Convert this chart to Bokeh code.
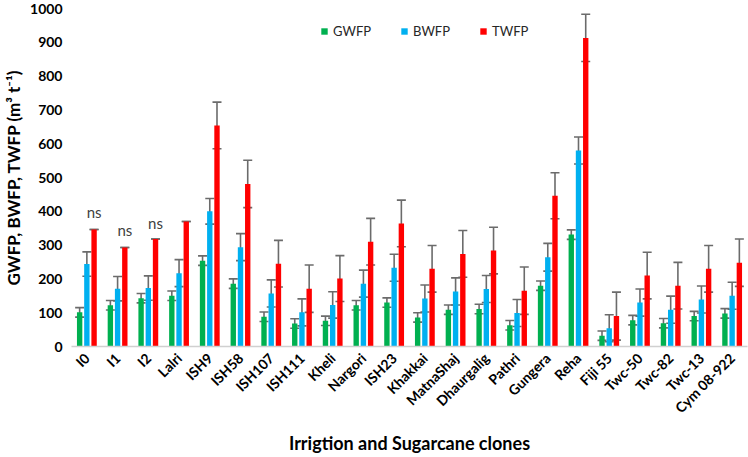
from math import pi
from bokeh.plotting import figure
from bokeh.models import (ColumnDataSource, FactorRange, Range1d, Whisker, TeeHead,
                          Legend, LegendItem, FixedTicker)
from bokeh.transform import dodge
from bokeh.embed import file_html
from bokeh.resources import INLINE
from bokeh.core.properties import value

# ---- data ----
clones = ["I0", "I1", "I2", "Lalri", "ISH9", "ISH58", "ISH107", "ISH111", "Kheli",
          "Nargori", "ISH23", "Khakkai", "MatnaShaj", "Dhaurgalig", "Pathri",
          "Gungera", "Reha", "Fiji 55", "Twc-50", "Twc-82", "Twc-13", "Cym 08-922"]
gwfp = [101, 122, 143, 150, 254, 186, 88, 68, 76, 122, 130, 86, 109, 111, 63,
        180, 331, 32, 78, 69, 90, 98]
bwfp = [244, 171, 173, 217, 400, 294, 157, 101, 123, 186, 233, 142, 163, 170, 99,
        264, 580, 54, 130, 109, 139, 150]
twfp = [346, 293, 318, 370, 654, 481, 245, 171, 201, 310, 364, 230, 274, 284, 165,
        446, 913, 90, 210, 180, 230, 248]
gwfp_err = [14, 14, 14, 14, 14, 14, 14, 14, 14, 14, 14, 14, 14, 14, 14,
            14, 14, 14, 14, 14, 14, 14]
bwfp_err = [36, 36, 36, 40, 38, 40, 40, 40, 39, 40, 40, 40, 40, 40, 40,
            41, 40, 40, 40, 40, 40, 40]
twfp_err = [0, 0, 0, 0, 69, 70, 69, 70, 68, 69, 69, 69, 69, 69, 70,
            68, 70, 71, 69, 69, 69, 70]
y_ticks = [0, 100, 200, 300, 400, 500, 600, 700, 800, 900, 1000]
ns_clones = ["I0", "I1", "I2"]
ns_y = [397, 344, 365]

series_names = ["GWFP", "BWFP", "TWFP"]
colors = ["#00B050", "#00B0F0", "#FF0000"]
x_title = "Irrigtion and Sugarcane clones"
y_title = "GWFP, BWFP, TWFP (m³ t⁻¹)"

FONT = "Lato"

data = dict(clone=clones, g=gwfp, b=bwfp, t=twfp)
for key, vals, errs in (("g", gwfp, gwfp_err), ("b", bwfp, bwfp_err), ("t", twfp, twfp_err)):
    data[key + "_lo"] = [v - e for v, e in zip(vals, errs)]
    data[key + "_hi"] = [v + e for v, e in zip(vals, errs)]
src = ColumnDataSource(data)

p = figure(width=748, height=457, x_range=FactorRange(*clones), y_range=Range1d(0, 1000),
           output_backend="svg", toolbar_location=None,
           min_border_left=68, min_border_right=1, min_border_top=8,
           min_border_bottom=109)
p.outline_line_color = None
p.xgrid.grid_line_color = None
p.ygrid.grid_line_color = None
p.background_fill_color = "white"
p.border_fill_color = "white"
p.x_range.range_padding = 0
p.x_range.group_padding = 0

offsets = [-0.235, 0.0, 0.235]
bar_w = 0.175
renderers = []
for key, off, col in zip(["g", "b", "t"], offsets, colors):
    r = p.vbar(x=dodge("clone", off, range=p.x_range), top=key, width=bar_w, source=src,
               fill_color=col, line_color=None)
    renderers.append(r)
for key, off in zip(["g", "b", "t"], offsets):
    w = Whisker(base=dodge("clone", off, range=p.x_range), lower=key + "_lo", upper=key + "_hi",
                source=src, line_color="#6b6b6b", line_width=1.6,
                upper_head=TeeHead(size=9, line_color="#6b6b6b", line_width=1.6),
                lower_head=TeeHead(size=9, line_color="#6b6b6b", line_width=1.6))
    p.add_layout(w)

ns_src = ColumnDataSource(dict(clone=ns_clones, y=ns_y, txt=["ns"] * len(ns_clones)))
p.text(x=dodge("clone", 0.235, range=p.x_range), y="y", text="txt", source=ns_src,
       text_font=value(FONT), text_font_size="15px", text_color="#404040",
       text_align="center", text_baseline="middle")

# axes
p.yaxis.ticker = FixedTicker(ticks=y_ticks)
p.yaxis.axis_line_color = None
p.yaxis.major_tick_line_color = None
p.yaxis.minor_tick_line_color = None
p.yaxis.major_tick_out = 0
p.yaxis.major_label_standoff = 9
p.yaxis.major_label_text_font = FONT
p.yaxis.major_label_text_font_style = "bold"
p.yaxis.major_label_text_font_size = "14px"
p.yaxis.major_label_text_color = "black"
p.yaxis.axis_label = y_title
p.yaxis.axis_label_text_font = FONT
p.yaxis.axis_label_text_font_style = "bold"
p.yaxis.axis_label_text_font_size = "17px"
p.yaxis.axis_label_text_color = "black"
p.yaxis.axis_label_standoff = 3

p.xaxis.axis_line_color = "#d0d0d0"
p.xaxis.axis_line_width = 1.5
p.xaxis.major_tick_line_color = None
p.xaxis.minor_tick_line_color = None
p.xaxis.major_tick_out = 0
p.xaxis.major_label_orientation = pi / 4
p.xaxis.major_label_standoff = 9
p.xaxis.major_label_text_font = FONT
p.xaxis.major_label_text_font_style = "bold"
p.xaxis.major_label_text_font_size = "14px"
p.xaxis.major_label_text_color = "black"
p.xaxis.axis_label = x_title
p.xaxis.axis_label_text_font = FONT
p.xaxis.axis_label_text_font_style = "bold"
p.xaxis.axis_label_text_font_size = "18px"
p.xaxis.axis_label_text_color = "black"
p.xaxis.axis_label_standoff = 7

legend = Legend(items=[LegendItem(label=n, renderers=[r]) for n, r in zip(series_names, renderers)],
                orientation="horizontal", location=(249, 307),
                glyph_width=8, glyph_height=8, label_standoff=5, spacing=29,
                padding=0, margin=0, border_line_color=None, background_fill_alpha=0,
                label_text_font=FONT, label_text_font_size="13px", label_text_color="#262626")
p.add_layout(legend)

open("out.html", "w").write(file_html(p, INLINE))
